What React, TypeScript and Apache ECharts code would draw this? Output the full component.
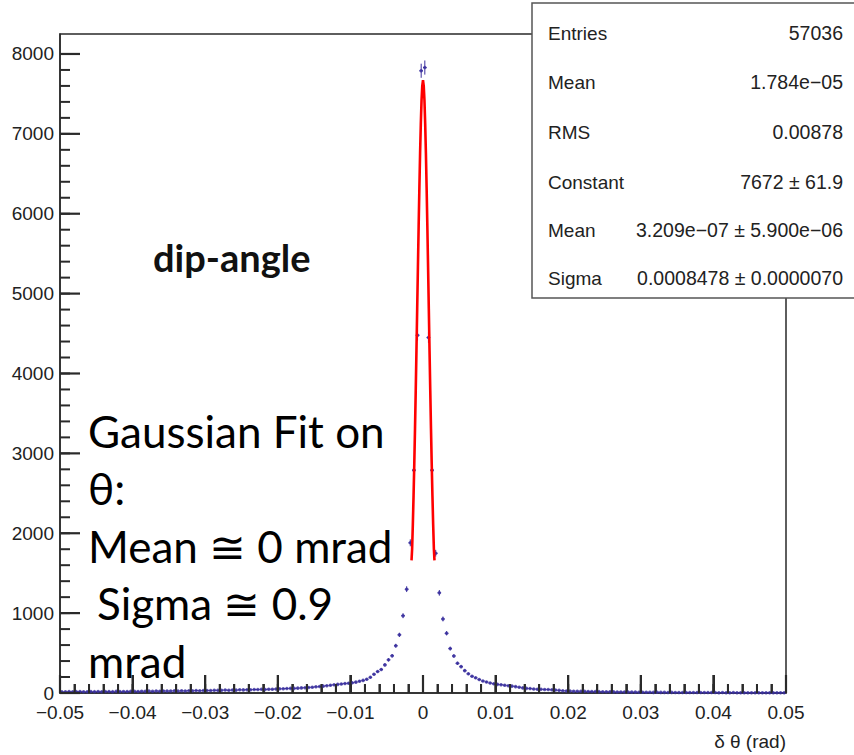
import React, { useEffect, useRef } from 'react';
import * as echarts from 'echarts';

// Histogram binning: 200 bins from -0.05 to 0.05
const X_MIN = -0.05;
const X_MAX = 0.05;
const BIN_WIDTH = 0.0005;

// Bin contents (left half: -0.05 .. 0)
const countsLeft = [
  16, 14, 18, 15, 17, 19, 15, 16, 18, 17, 20, 16, 18, 19, 17, 21, 18, 20, 19, 22,
  21, 20, 23, 22, 24, 21, 25, 23, 26, 24, 25, 27, 24, 28, 26, 29, 27, 30, 28, 31,
  32, 30, 34, 33, 35, 37, 34, 38, 36, 40, 39, 42, 41, 44, 43, 46, 45, 48, 47, 50,
  52, 54, 56, 58, 58, 61, 64, 67, 70, 73, 77, 81, 86, 92, 97, 103, 108, 113, 118, 123,
  128, 136, 148, 158, 172, 196, 235, 268, 295, 352, 415, 466, 592, 728, 968, 1300, 1880, 2790, 4480, 7790,
];
// Right half: 0 .. 0.05
const countsRight = [
  7830, 4450, 2790, 1750, 1254, 927, 748, 556, 464, 372, 330, 280, 240, 210, 190, 168, 150, 138, 125, 116,
  108, 104, 98, 92, 86, 80, 72, 64, 58, 55, 50, 48, 47, 45, 43, 40, 37, 33, 29, 26,
  24, 23, 22, 22, 21, 20, 19, 18, 17, 16, 15, 15, 14, 13, 13, 12, 12, 11, 11, 10,
  10, 9, 9, 8, 9, 8, 8, 7, 8, 7, 7, 6, 7, 6, 6, 5, 6, 5, 5, 5,
  5, 4, 5, 4, 4, 5, 4, 3, 4, 4, 3, 4, 3, 3, 4, 3, 3, 2, 3, 3,
];

// Gaussian fit curve
const fitX = [
  -0.00158, -0.0015, -0.0014, -0.0013, -0.0012, -0.0011, -0.001, -0.0009, -0.0008, -0.0007, -0.0006,
  -0.0005, -0.0004, -0.0003, -0.0002, -0.0001, 0,
  0.0001, 0.0002, 0.0003, 0.0004, 0.0005, 0.0006, 0.0007, 0.0008, 0.0009, 0.001, 0.0011, 0.0012,
  0.0013, 0.0014, 0.0015, 0.00158,
];
const fitY = [
  1660, 1800, 2110, 2470, 2870, 3310, 3790, 4290, 4810, 5330, 5840,
  6320, 6760, 7130, 7420, 7600, 7672,
  7600, 7420, 7130, 6760, 6320, 5840, 5330, 4810, 4290, 3790, 3310, 2870,
  2470, 2110, 1800, 1660,
];

// Tick positions
const xMajorTicks = [-0.05, -0.04, -0.03, -0.02, -0.01, 0, 0.01, 0.02, 0.03, 0.04, 0.05];
const xMinorTicks = Array.from({ length: 51 }, (_, i) => Number((-0.05 + i * 0.002).toFixed(4)));
const yMajorTicks = [0, 1000, 2000, 3000, 4000, 5000, 6000, 7000, 8000];
const yMinorTicks = Array.from({ length: 41 }, (_, i) => i * 200);
const Y_MAX = 8250;

const statLabels = ['Entries', 'Mean', 'RMS', 'Constant', 'Mean', 'Sigma'];
const statValues = [
  '57036',
  '1.784e\u221205',
  '0.00878',
  '7672 \u00b1 61.9',
  '3.209e\u221207 \u00b1 5.900e\u221206',
  '0.0008478 \u00b1 0.0000070',
];

const noteLines = ['Gaussian Fit on', '\u03b8:', 'Mean \u2245 0 mrad', 'Sigma \u2245 0.9', 'mrad'];
const titleText = 'dip-angle';
const xTitle = '\u03b4 \u03b8 (rad)';

const AXIS_COLOR = '#2a2a2a';
const POINT_COLOR = '#3a2f9e';
const FONT = '"Liberation Sans", Arial, Helvetica, sans-serif';

export default function App() {
  const ref = useRef<HTMLDivElement>(null);

  useEffect(() => {
    if (!ref.current) return;
    const chart = echarts.init(ref.current, null, { renderer: 'svg' });
    const counts = [...countsLeft, ...countsRight];
    const histData = counts.map((c, i) => [X_MIN + BIN_WIDTH * (i + 0.5), c]);
    const fitData = fitX.map((x, i) => [x, fitY[i]]);

    const fmtX = (v: number) => {
      const s = String(Number(v.toFixed(3)));
      return s.replace('-', '\u2212');
    };

    const statRowY = [33, 82, 132, 182, 230, 278];
    const noteY = [431, 488, 546, 603, 661];
    const noteX = [88, 88, 88, 97, 88];

    const textGraphics: any[] = [
      {
        type: 'text',
        left: 153,
        top: 238,
        z: 50,
        style: { text: titleText, font: 'bold 38px Lato, "Liberation Sans", sans-serif', fill: '#111' },
      },
      {
        type: 'text',
        x: 786,
        y: 741,
        z: 50,
        style: {
          text: xTitle,
          font: `19px ${FONT}`,
          fill: '#222',
          textAlign: 'right',
          textVerticalAlign: 'middle',
        },
      },
      ...noteLines.map((t, i) => ({
        type: 'text',
        x: noteX[i],
        y: noteY[i],
        z: 50,
        style: {
          text: t,
          font: '44px Lato, "Liberation Sans", sans-serif',
          fill: '#000',
          textVerticalAlign: 'middle',
        },
      })),
      {
        type: 'rect',
        z: 60,
        shape: { x: 532, y: 3, width: 340, height: 295 },
        style: { fill: '#fff', stroke: '#555', lineWidth: 1.5 },
      },
      ...statLabels.map((t, i) => ({
        type: 'text',
        x: 548,
        y: statRowY[i],
        z: 61,
        style: { text: t, font: `19px ${FONT}`, fill: '#222', textVerticalAlign: 'middle' },
      })),
      ...statValues.map((t, i) => ({
        type: 'text',
        x: 843,
        y: statRowY[i],
        z: 61,
        style: {
          text: t,
          font: `19.5px ${FONT}`,
          fill: '#222',
          textAlign: 'right',
          textVerticalAlign: 'middle',
        },
      })),
    ];

    chart.setOption({
      animation: false,
      backgroundColor: '#fff',
      grid: {
        left: 60,
        right: 68,
        top: 34,
        bottom: 62,
        show: true,
        borderColor: AXIS_COLOR,
        borderWidth: 1.5,
      },
      xAxis: {
        type: 'value',
        min: X_MIN,
        max: X_MAX,
        interval: 0.01,
        axisLine: { show: true, onZero: false, lineStyle: { color: AXIS_COLOR, width: 1.5 } },
        axisTick: { show: true, inside: true, length: 18, lineStyle: { color: AXIS_COLOR, width: 2 } },
        minorTick: { show: true, splitNumber: 5, length: 9, lineStyle: { color: AXIS_COLOR, width: 1.8 } },
        splitLine: { show: false },
        minorSplitLine: { show: false },
        axisLabel: {
          show: true,
          showMinLabel: true,
          showMaxLabel: true,
          margin: 10,
          fontFamily: FONT,
          fontSize: 19,
          color: '#222',
          formatter: (v: number) => fmtX(v),
        },
      },
      yAxis: {
        type: 'value',
        min: 0,
        max: Y_MAX,
        position: 'left',
        axisLine: { show: true, onZero: false, lineStyle: { color: AXIS_COLOR, width: 1.5 } },
        axisTick: { show: false },
        splitLine: { show: false },
        axisLabel: {
          show: true,
          customValues: yMajorTicks,
          margin: 6,
          fontFamily: FONT,
          fontSize: 19,
          color: '#222',
          formatter: (v: number) => (v % 1000 === 0 ? String(v) : ''),
        },
      },
      series: [
        {
          type: 'custom',
          name: 'errors',
          z: 3,
          data: histData,
          renderItem: (_params: any, api: any) => {
            const x = api.value(0);
            const y = api.value(1);
            const e = Math.sqrt(y);
            const a = api.coord([x - BIN_WIDTH / 2, y]);
            const b = api.coord([x + BIN_WIDTH / 2, y]);
            const c = api.coord([x, y - e]);
            const d = api.coord([x, y + e]);
            return {
              type: 'group',
              children: [
                {
                  type: 'line',
                  shape: { x1: a[0], y1: a[1], x2: b[0], y2: b[1] },
                  style: { stroke: POINT_COLOR, lineWidth: 1 },
                },
                {
                  type: 'line',
                  shape: { x1: c[0], y1: c[1], x2: d[0], y2: d[1] },
                  style: { stroke: POINT_COLOR, lineWidth: 1 },
                },
              ],
            };
          },
        },
        {
          type: 'scatter',
          name: 'data',
          z: 4,
          data: histData,
          symbol: 'circle',
          symbolSize: 3.5,
          itemStyle: { color: POINT_COLOR },
        },
        {
          type: 'line',
          name: 'fit',
          z: 5,
          data: fitData,
          showSymbol: false,
          symbol: 'none',
          smooth: false,
          lineStyle: { color: '#ff0000', width: 2.6 },
        },
      ],
      graphic: textGraphics,
    });

    // Ticks drawn inside the frame as filled rects, positioned through the chart's axes
    const tickRects: any[] = [];
    const addX = (v: number, len: number, w: number) => {
      const p = chart.convertToPixel({ xAxisIndex: 0, yAxisIndex: 0 } as any, [v, 0]) as number[];
      if (!p || !isFinite(p[0])) return;
      tickRects.push({
        type: 'rect',
        z: 30,
        silent: true,
        shape: { x: p[0] - w / 2, y: p[1] - len, width: w, height: len },
        style: { fill: AXIS_COLOR },
      });
    };
    const addY = (v: number, len: number, w: number) => {
      const p = chart.convertToPixel({ xAxisIndex: 0, yAxisIndex: 0 } as any, [X_MIN, v]) as number[];
      if (!p || !isFinite(p[1])) return;
      tickRects.push({
        type: 'rect',
        z: 30,
        silent: true,
        shape: { x: p[0], y: p[1] - w / 2, width: len, height: w },
        style: { fill: AXIS_COLOR },
      });
    };
    xMinorTicks.forEach((v) => addX(v, 9, 2));
    xMajorTicks.forEach((v) => addX(v, 18, 2.2));
    yMinorTicks.forEach((v) => addY(v, 10, 2));
    yMajorTicks.forEach((v) => addY(v, 20, 2.2));

    chart.setOption({ graphic: [...textGraphics, ...tickRects] });

    return () => {
      chart.dispose();
    };
  }, []);

  return (
    <div
      ref={ref}
      style={{ position: 'fixed', left: 0, top: 0, width: 854, height: 755, background: '#fff' }}
    />
  );
}
